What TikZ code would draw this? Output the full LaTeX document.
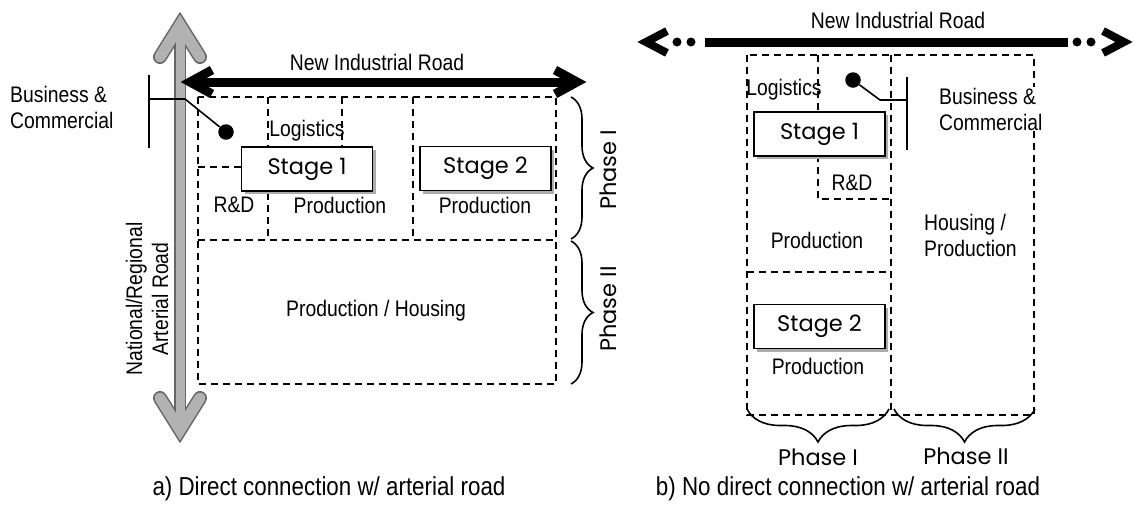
\documentclass[tikz,border=0pt]{standalone}
\usepackage{fontspec}
\setmainfont{Liberation Sans}[FakeStretch=0.86]
\newfontfamily\gothic{Poppins}
\usetikzlibrary{positioning,decorations.pathreplacing,shadows}

\newcommand\txtsize{\fontsize{22.5}{26}\selectfont}
\newcommand\capsize{\fontsize{26}{30}\selectfont}
\newcommand\gothsize{\gothic\fontsize{22.5}{26}\selectfont}

\tikzset{
    zone/.style={draw, line width=2pt, dash pattern=on 7pt off 5pt},
    stagebox/.style={draw, fill=white, line width=1.8pt, font=\gothsize,
        minimum width=131pt, minimum height=44pt, inner sep=0pt,
        drop shadow={shadow xshift=3pt, shadow yshift=-3pt, fill=gray!65, opacity=1}},
    road/.style={line width=9pt, line join=miter},
    artout/.style={black!60, line join=miter, line cap=round},
    artin/.style={black!30, line join=miter, line cap=round},
    bizdot/.style={circle, fill, inner sep=0pt, minimum size=15.5pt},
    thin/.style={line width=1.6pt},
    phase/.style={thin, decorate, decoration={brace, amplitude=#1}}
}

\begin{document}
\begin{tikzpicture}[
    x=1pt, y=-1pt,
    every node/.style={font=\txtsize, inner sep=1pt}
]
\useasboundingbox (0,0) rectangle (1135,507);

% a) arterial road (grey double arrow)
\coordinate (artTop) at (180,25);
\coordinate (artBot) at (180,430);
\draw[artout, line width=14pt] (160,57) -- (artTop) -- (200,57);
\draw[artout, line width=14pt] (160,398) -- (artBot) -- (200,398);
\draw[artout, line width=12pt, line cap=butt] (artTop) -- (artBot);
\draw[artin, line width=11pt] (160,57) -- (artTop) -- (200,57);
\draw[artin, line width=11pt] (160,398) -- (artBot) -- (200,398);
\draw[artin, line width=9pt, line cap=butt] (artTop) -- (artBot);
\node[rotate=90, align=center] (artLbl) at (147,299) {National/Regional\\Arterial Road};

% a) new industrial road
\coordinate (roadAL) at (190,82);
\coordinate (roadAR) at (577,82);
\draw[road] (roadAL) -- (roadAR);
\draw[road] (212,70) -- (roadAL) -- (212,94);
\draw[road] (555,70) -- (roadAR) -- (555,94);
\node (roadA) at (377,62) {New Industrial Road};

% a) zones
\draw[zone] (198,97) rectangle (556,384);
\draw[zone] (198,240) -- (556,240);
\draw[zone] (268,97) -- (268,240);
\draw[zone] (342,97) -- (342,147);
\draw[zone] (413,97) -- (413,240);
\draw[zone] (198,167) -- (242,167);

\node[stagebox] (stageA1) at (307,169) {Stage 1};
\node[stagebox] (stageA2) at (485.5,168.5) {Stage 2};
\node (logA) at (307,131) {Logistics};
\node (rdA) at (234,205) {R\&D};
\node (prodA1) at (340,205) {Production};
\node (prodA2) at (485,205) {Production};
\node (prodA3) at (376,311) {Production / Housing};

% a) business & commercial
\node[anchor=west, align=left] (bizA) at (9,107) {Business \&\\Commercial};
\node[bizdot] (dotA) at (226,132) {};
\coordinate (barA) at (149,99);
\draw[thin] (149,75) -- (149,148);
\draw[thin] (barA) -- (185,99) -- (dotA);

% a) phases
\draw[phase=22pt] (571,97) -- (571,239);
\draw[phase=22pt] (571,241) -- (571,384);
\node[rotate=90, font=\gothsize] (phA1) at (608,170) {Phase I};
\node[rotate=90, font=\gothsize] (phA2) at (608,309) {Phase II};

\node[font=\capsize] (capA) at (329,489) {a) Direct connection w/ arterial road};

% b) new industrial road
\coordinate (roadBL) at (646,42);
\coordinate (roadBR) at (1124,42);
\draw[line width=9pt] (705,42) -- (1068,42);
\draw[road, line width=8pt] (667,31) -- (roadBL) -- (667,53);
\draw[road, line width=8pt] (1103,31) -- (roadBR) -- (1103,53);
\foreach \dx in {677,691,1077,1091}
    \fill (\dx,42) circle (4.5pt);
\node (roadB) at (898,20) {New Industrial Road};

% b) zones
\draw[zone] (747,55) rectangle (1034,415);
\draw[zone] (891,55) -- (891,415);
\draw[zone] (818,55) -- (818,113);
\draw[zone] (818,155) -- (818,199) -- (891,199);
\draw[zone] (747,272) -- (891,272);

\node[stagebox] (stageB1) at (819.5,134) {Stage 1};
\node[stagebox] (stageB2) at (819.5,326.5) {Stage 2};
\node (logB) at (784,90) {Logistics};
\node (rdB) at (852,183) {R\&D};
\node (prodB1) at (817,240) {Production};
\node (prodB2) at (818,366) {Production};
\node[anchor=west, align=left] (houseB) at (923,235) {Housing /\\Production};

% b) business & commercial
\node[anchor=west, align=left, fill=white] (bizB) at (938,109) {Business \&\\Commercial};
\node[bizdot] (dotB) at (853,80) {};
\coordinate (barB) at (907,100);
\draw[thin] (907,77) -- (907,150);
\draw[thin] (barB) -- (880,100) -- (dotB);

% b) phases
\draw[phase=33pt] (889,409) -- (747,409);
\draw[phase=33pt] (1035,409) -- (894,409);
\node[font=\gothsize] (phB1) at (818,457) {Phase I};
\node[font=\gothsize] (phB2) at (966,456) {Phase II};

\node[font=\capsize] (capB) at (848,489) {b) No direct connection w/ arterial road};

\end{tikzpicture}
\end{document}
